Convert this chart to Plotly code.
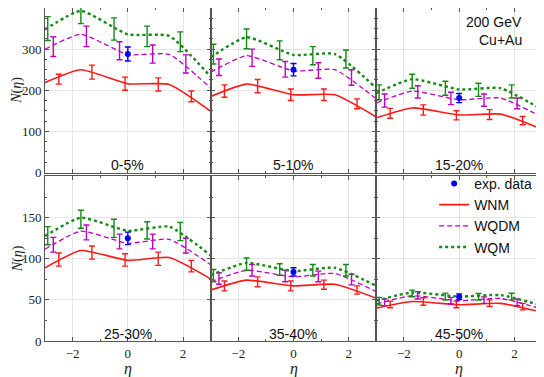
import plotly.graph_objects as go
from plotly.subplots import make_subplots

# centrality classes, one panel each
panels = ["0-5%", "5-10%", "15-20%", "25-30%", "35-40%", "45-50%"]

# model curves sampled at these eta values
eta_curve = [-3, -1.7, 0, 1.5, 3]
wnm_curve = [[219, 250, 216, 214, 149], [185, 215, 189, 189, 135], [133, 157, 140, 142, 105],
             [89, 110, 98, 101.5, 75.5], [62, 74, 67, 69, 52], [40, 48, 44, 45.7, 35]]
wqdm_curve = [[300, 336, 287, 287, 205], [244, 284, 247, 250, 179], [169, 198, 177, 181, 135],
              [111.5, 133.6, 118.8, 123.6, 92.7], [72, 86, 78, 82, 60], [45, 55, 49, 51.7, 39]]
wqm_curve = [[348, 393, 336, 332, 233], [280, 329, 286, 288, 205], [193, 227, 202, 205, 153],
             [127.6, 150, 134, 139, 104], [80, 95, 85, 89, 67], [49, 59, 54, 55.8, 43]]

# model points with error bars
eta_wnm = [-2.5, -1.3, -0.1, 1.1, 2.3]
wnm_pts = [[227, 244, 216, 214, 185], [198, 210, 189, 189, 167], [144, 152, 139, 141, 126],
           [99, 107.5, 98.5, 100, 91], [67, 72, 67, 68.5, 62], [44.5, 48, 44.5, 46, 41.8]]
wnm_err = [[12, 17, 16, 16, 13], [15, 16, 14, 14, 12], [12, 12.5, 11, 12, 10],
           [8, 8, 7.5, 8, 7], [6, 6, 6, 5.5, 5], [4, 4.5, 4, 4, 4]]

eta_wqdm = [-2.7, -1.5, -0.3, 0.9, 2.1]
wqdm_pts = [[306, 331, 296, 288, 264], [256, 279, 251, 248, 231], [175, 196, 180, 176, 168],
            [117, 132, 121, 121, 116], [76, 86, 79, 78.5, 74.7], [47, 55.4, 49, 49.7, 47]]
wqdm_err = [[24, 25, 22, 22, 22], [20, 21, 19, 19, 19], [16, 15, 15, 15, 13],
            [9, 9, 9, 9, 9], [7, 7, 7, 6.5, 6.5], [4, 4.4, 4, 4, 4]]

eta_wqm = [-2.9, -1.7, -0.5, 0.7, 1.9]
wqm_pts = [[350, 390, 349, 331, 318], [288, 325, 297, 284, 276], [195, 222, 205, 201, 197],
           [128, 148, 137, 134.5, 133], [79.5, 93.5, 87, 86, 86], [48.4, 57.8, 54, 53.7, 54]]
wqm_err = [[29, 28, 27, 25, 24], [24, 24, 23, 22, 22], [18, 17, 17, 16, 16],
           [11, 11, 11, 10.5, 11], [7.5, 7.5, 7, 7, 7], [4.6, 4, 4.2, 4, 4]]

# experimental point at eta = 0
exp_eta = [0]
exp_val = [288, 250, 181, 124.8, 84, 53.8]
exp_err = [17, 15, 11, 7.6, 5, 3.5]

RED = "#ff1a1a"
MAG = "#c000c0"
GRN = "#138a13"
BLUE = "#0000ff"
AX = "#555555"

fig = make_subplots(rows=2, cols=3, shared_xaxes=True, shared_yaxes=True,
                    horizontal_spacing=0, vertical_spacing=0.012)

models = [
    ("WNM", RED, dict(width=1.6), wnm_curve, eta_wnm, wnm_pts, wnm_err, 2),
    ("WQDM", MAG, dict(width=1.3, dash="5px,3px"), wqdm_curve, eta_wqdm, wqdm_pts, wqdm_err, 3),
    ("WQM", GRN, dict(width=2.4, dash="dot"), wqm_curve, eta_wqm, wqm_pts, wqm_err, 4),
]

for i in range(6):
    r, c = i // 3 + 1, i % 3 + 1
    first = i == 0
    for name, col, ln, curve, xe, pts, err, rank in models:
        fig.add_trace(go.Scatter(
            x=eta_curve, y=curve[i], mode="lines", name=name, legendgroup=name,
            legendrank=rank, showlegend=first,
            line=dict(color=col, shape="spline", smoothing=0.5, **ln)), row=r, col=c)
        fig.add_trace(go.Scatter(
            x=xe, y=pts[i], mode="markers", marker=dict(size=1, opacity=0),
            error_y=dict(type="data", array=err[i], color=col, thickness=1.4, width=3),
            showlegend=False, legendgroup=name, hoverinfo="skip"), row=r, col=c)
    fig.add_trace(go.Scatter(
        x=exp_eta, y=[exp_val[i]], mode="markers", name="exp. data", legendgroup="exp",
        legendrank=1, showlegend=first, marker=dict(color=BLUE, size=6),
        error_y=dict(type="data", array=[exp_err[i]], color=BLUE, thickness=1.4, width=3)),
        row=r, col=c)

    fig.add_annotation(text=panels[i], xref=f"x{i+1 if i else ''}", x=0,
                       yref=f"y{i+1 if i else ''} domain", y=0.045, yanchor="middle",
                       showarrow=False, font=dict(size=14, family="Liberation Sans", color="#111"))

axis_common = dict(showline=True, linecolor=AX, linewidth=1, mirror="allticks",
                   ticks="inside", ticklen=4, tickcolor=AX, showgrid=True,
                   gridcolor="#e6e6e6", gridwidth=1, zeroline=False,
                   tickfont=dict(family="Liberation Serif", size=13, color="#222"))

fig.update_xaxes(range=[-3, 3], dtick=2, tick0=0,
                 minor=dict(dtick=1, tick0=0, ticks="inside", ticklen=2, tickcolor=AX, showgrid=False),
                 **axis_common)
fig.update_yaxes(range=[0, 400], tickvals=[0, 100, 200, 300],
                 minor=dict(dtick=25, tick0=0, ticks="inside", ticklen=2, tickcolor=AX, showgrid=False),
                 row=1, **axis_common)
fig.update_yaxes(range=[0, 200], tickvals=[0, 50, 100, 150],
                 minor=dict(dtick=25, tick0=0, ticks="inside", ticklen=2, tickcolor=AX, showgrid=False),
                 row=2, **axis_common)

fig.add_annotation(text="200 GeV", xref="x3 domain", x=0.89, xanchor="right",
                   yref="y3 domain", y=0.915, yanchor="middle", showarrow=False,
                   font=dict(size=14, family="Liberation Sans", color="#111"))
fig.add_annotation(text="Cu+Au", xref="x3 domain", x=0.89, xanchor="right",
                   yref="y3 domain", y=0.805, yanchor="middle", showarrow=False,
                   font=dict(size=14, family="Liberation Sans", color="#111"))

for yd in [0.753, 0.247]:
    fig.add_annotation(text="<i>N</i>(<i>η</i>)", xref="paper", x=-0.0553, xanchor="center",
                       yref="paper", y=yd, yanchor="middle", textangle=-90, showarrow=False,
                       font=dict(size=14, family="Liberation Serif", color="#222"))
for xd in [1 / 6, 0.5, 5 / 6]:
    fig.add_annotation(text="<i>η</i>", xref="paper", x=xd, xanchor="center",
                       yref="paper", y=-0.084, yanchor="middle", showarrow=False,
                       font=dict(size=16, family="Liberation Serif", color="#222"))

# the page body adds 8px offset, so margins are shifted accordingly
fig.update_layout(
    width=544, height=377,
    margin=dict(l=37, r=10, t=0, b=44),
    plot_bgcolor="white", paper_bgcolor="white",
    showlegend=True,
    legend=dict(x=0.783, y=0.52, xanchor="left", yanchor="top", bgcolor="rgba(0,0,0,0)",
                font=dict(size=14, family="Liberation Sans", color="#111"),
                tracegroupgap=0, itemwidth=30),
)

fig.write_html("out.html")
